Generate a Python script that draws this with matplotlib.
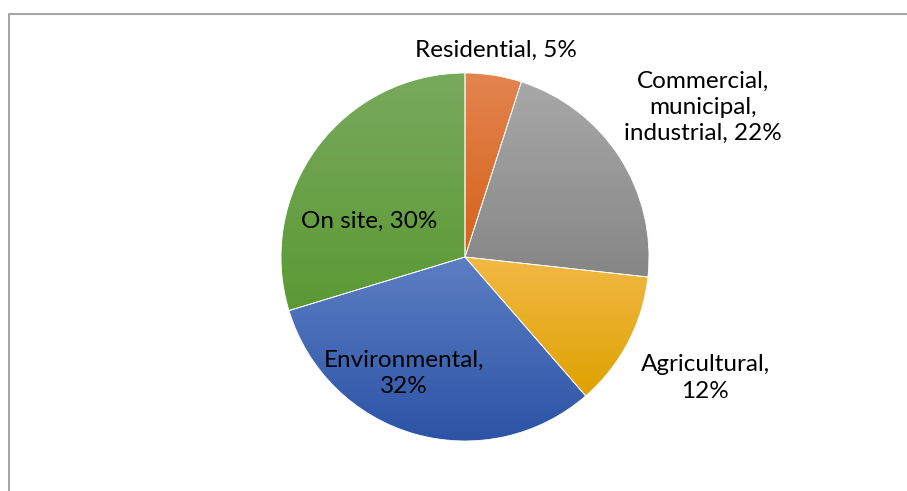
import numpy as np
import matplotlib.pyplot as plt
from matplotlib.colors import LinearSegmentedColormap

values = [5, 22, 12, 32, 30]
label_text = ["Residential, 5%", "Commercial,\nmunicipal,\nindustrial, 22%",
              "Agricultural,\n12%", "Environmental,\n32%", "On site, 30%"]

# light (top) -> dark (bottom) for each slice
grad = [("#e3844f", "#d5621a"),
        ("#a8a8a8", "#868686"),
        ("#f2b845", "#dea200"),
        ("#5c7ec3", "#2c53a5"),
        ("#77aa5c", "#5c9934")]

W, H = 907, 491
fig = plt.figure(figsize=(W / 100, H / 100), dpi=100)
ax = fig.add_axes([0, 0, 1, 1])

cx, cy, r = 465, H - 257, 184
wedges, _ = ax.pie(values, startangle=90, counterclock=False, center=(cx, cy),
                   radius=r, frame=True,
                   wedgeprops=dict(edgecolor="white", linewidth=0.6))
ax.set_xlim(0, W)
ax.set_ylim(0, H)
ax.set_aspect("equal")
ax.axis("off")

for w, (c1, c2) in zip(wedges, grad):
    cmap = LinearSegmentedColormap.from_list("g", [c2, c1])
    bb = w.get_path().get_extents(w.get_patch_transform())
    img = np.linspace(0, 1, 256).reshape(-1, 1)
    w.set_facecolor("none")
    im = ax.imshow(img, cmap=cmap, origin="lower", aspect="auto",
                   extent=[bb.x0, bb.x1, bb.y0, bb.y1], zorder=w.get_zorder() - 0.1,
                   interpolation="bilinear")
    im.set_clip_path(w)

font = dict(family=["Lato", "DejaVu Sans"], fontsize=17.5, color="black",
            ha="center", va="center", linespacing=1.3)
pos = [(496, 50), (703, 107), (705, 378), (404, 373), (369, 221)]
for t, (x, y) in zip(label_text, pos):
    ax.text(x, H - y, t, **font)

# chart area border
ax.plot([8.5, 8.5, W], [0, H - 14, H - 14], color="#a6a6a6", lw=1.5,
        solid_capstyle="butt")

fig.savefig("out.png", dpi=100)
